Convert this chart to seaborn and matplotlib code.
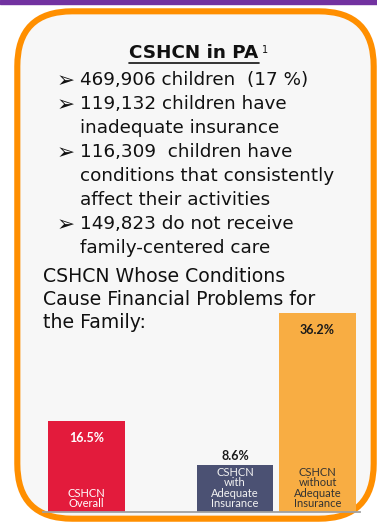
import matplotlib.pyplot as plt
import pandas as pd
import seaborn as sns
from matplotlib.lines import Line2D
from matplotlib.patches import FancyBboxPatch, Rectangle

W, H = 377, 529

# text content
title = "CSHCN in PA"
footnote = "1"
bullets = [
    ["469,906 children  (17 %)"],
    ["119,132 children have", "inadequate insurance"],
    ["116,309  children have", "conditions that consistently", "affect their activities"],
    ["149,823 do not receive", "family-centered care"],
]
heading = ["CSHCN Whose Conditions", "Cause Financial Problems for", "the Family:"]

# chart data
groups = [
    "CSHCN\nOverall",
    "CSHCN\nwith\nAdequate\nInsurance",
    "CSHCN\nwithout\nAdequate\nInsurance",
]
pct = [16.5, 8.6, 36.2]

# layout / style
bar_pos = [0, 1.8, 2.8]
bar_colors = ["#E31B3C", "#4B5173", "#F8AD43"]
value_inside = [True, False, True]
value_color = ["white", "#1a1a1a", "#1a1a1a"]
name_color = ["white", "#F2F2F2", "#333333"]


def fx(x):
    return x / W


def fy(y):
    return 1 - y / H


sns.set_theme(style="white")
plt.rcParams["font.family"] = ["DejaVu Sans"]

fig = plt.figure(figsize=(W / 100, H / 100), dpi=100)
fig.patch.set_facecolor("white")

# purple strip and rounded orange frame
fig.add_artist(Rectangle((0, fy(3.5)), 1, 3.5 / H, transform=fig.transFigure,
                         color="#7232A0", zorder=-2))
fig.add_artist(FancyBboxPatch((0.173, 0.103), 3.564, 5.074,
                              boxstyle="round,pad=0,rounding_size=0.55",
                              transform=fig.dpi_scale_trans,
                              facecolor="#F7F7F7", edgecolor="#FF8F00",
                              linewidth=4.4, zorder=-1))

# title with underline and footnote marker
t = fig.text(fx(194), fy(58), title, ha="center", va="baseline",
             fontsize=13.2, fontweight="bold", color="#111111")
fig.canvas.draw()
bb = t.get_window_extent(fig.canvas.get_renderer())
fig.add_artist(Line2D([bb.x0 / W, bb.x1 / W], [fy(63), fy(63)],
                      transform=fig.transFigure, color="#111111", lw=1.2))
fig.text(bb.x1 / W + 0.008, fy(53), footnote, fontsize=7, va="baseline",
         color="#111111")

# bullet list
y = 85
for item in bullets:
    fig.text(fx(56.5), fy(y - 6), "\u27A2", fontsize=15.5, va="center_baseline",
             color="#111111")
    for line in item:
        fig.text(fx(80), fy(y), line, fontsize=13.2, va="baseline", color="#111111")
        y += 24

y = 282
for line in heading:
    fig.text(fx(43), fy(y), line, fontsize=13.6, va="baseline", color="#111111")
    y += 23

# bar chart
df = pd.DataFrame({"group": groups, "pct": pct, "pos": bar_pos})
ax = fig.add_axes([fx(43), 17 / H, 317 / W, 199 / H])
sns.barplot(data=df, x="pos", y="pct", hue="group", palette=bar_colors,
            native_scale=True, width=0.93, saturation=1, legend=False,
            linewidth=0, edgecolor="none", ax=ax)
ax.set_xlim(-0.527, 3.315)
ax.set_ylim(0, 36.2)
ax.set_facecolor("none")
ax.set(xticks=[], yticks=[], xlabel="", ylabel="")
sns.despine(ax=ax, left=True)
ax.spines["bottom"].set_color("#A0A0A0")
ax.spines["bottom"].set_linewidth(1.3)

bars = sorted(ax.patches, key=lambda p: p.get_x())
for bar, val, inside, vc, name, nc in zip(bars, pct, value_inside, value_color,
                                          groups, name_color):
    cx = bar.get_x() + bar.get_width() / 2
    h = bar.get_height()
    ax.annotate(f"{val}%", (cx, h), xytext=(0, -12 if inside else 6.5),
                textcoords="offset points", ha="center", va="center",
                fontsize=9, fontweight="bold", color=vc, family="Lato",
                annotation_clip=False)
    ax.annotate(name, (cx, 0), xytext=(0, 2), textcoords="offset points",
                ha="center", va="bottom", fontsize=8, linespacing=0.95,
                color=nc, family="Lato", annotation_clip=False)

fig.savefig("out.png", dpi=100)
